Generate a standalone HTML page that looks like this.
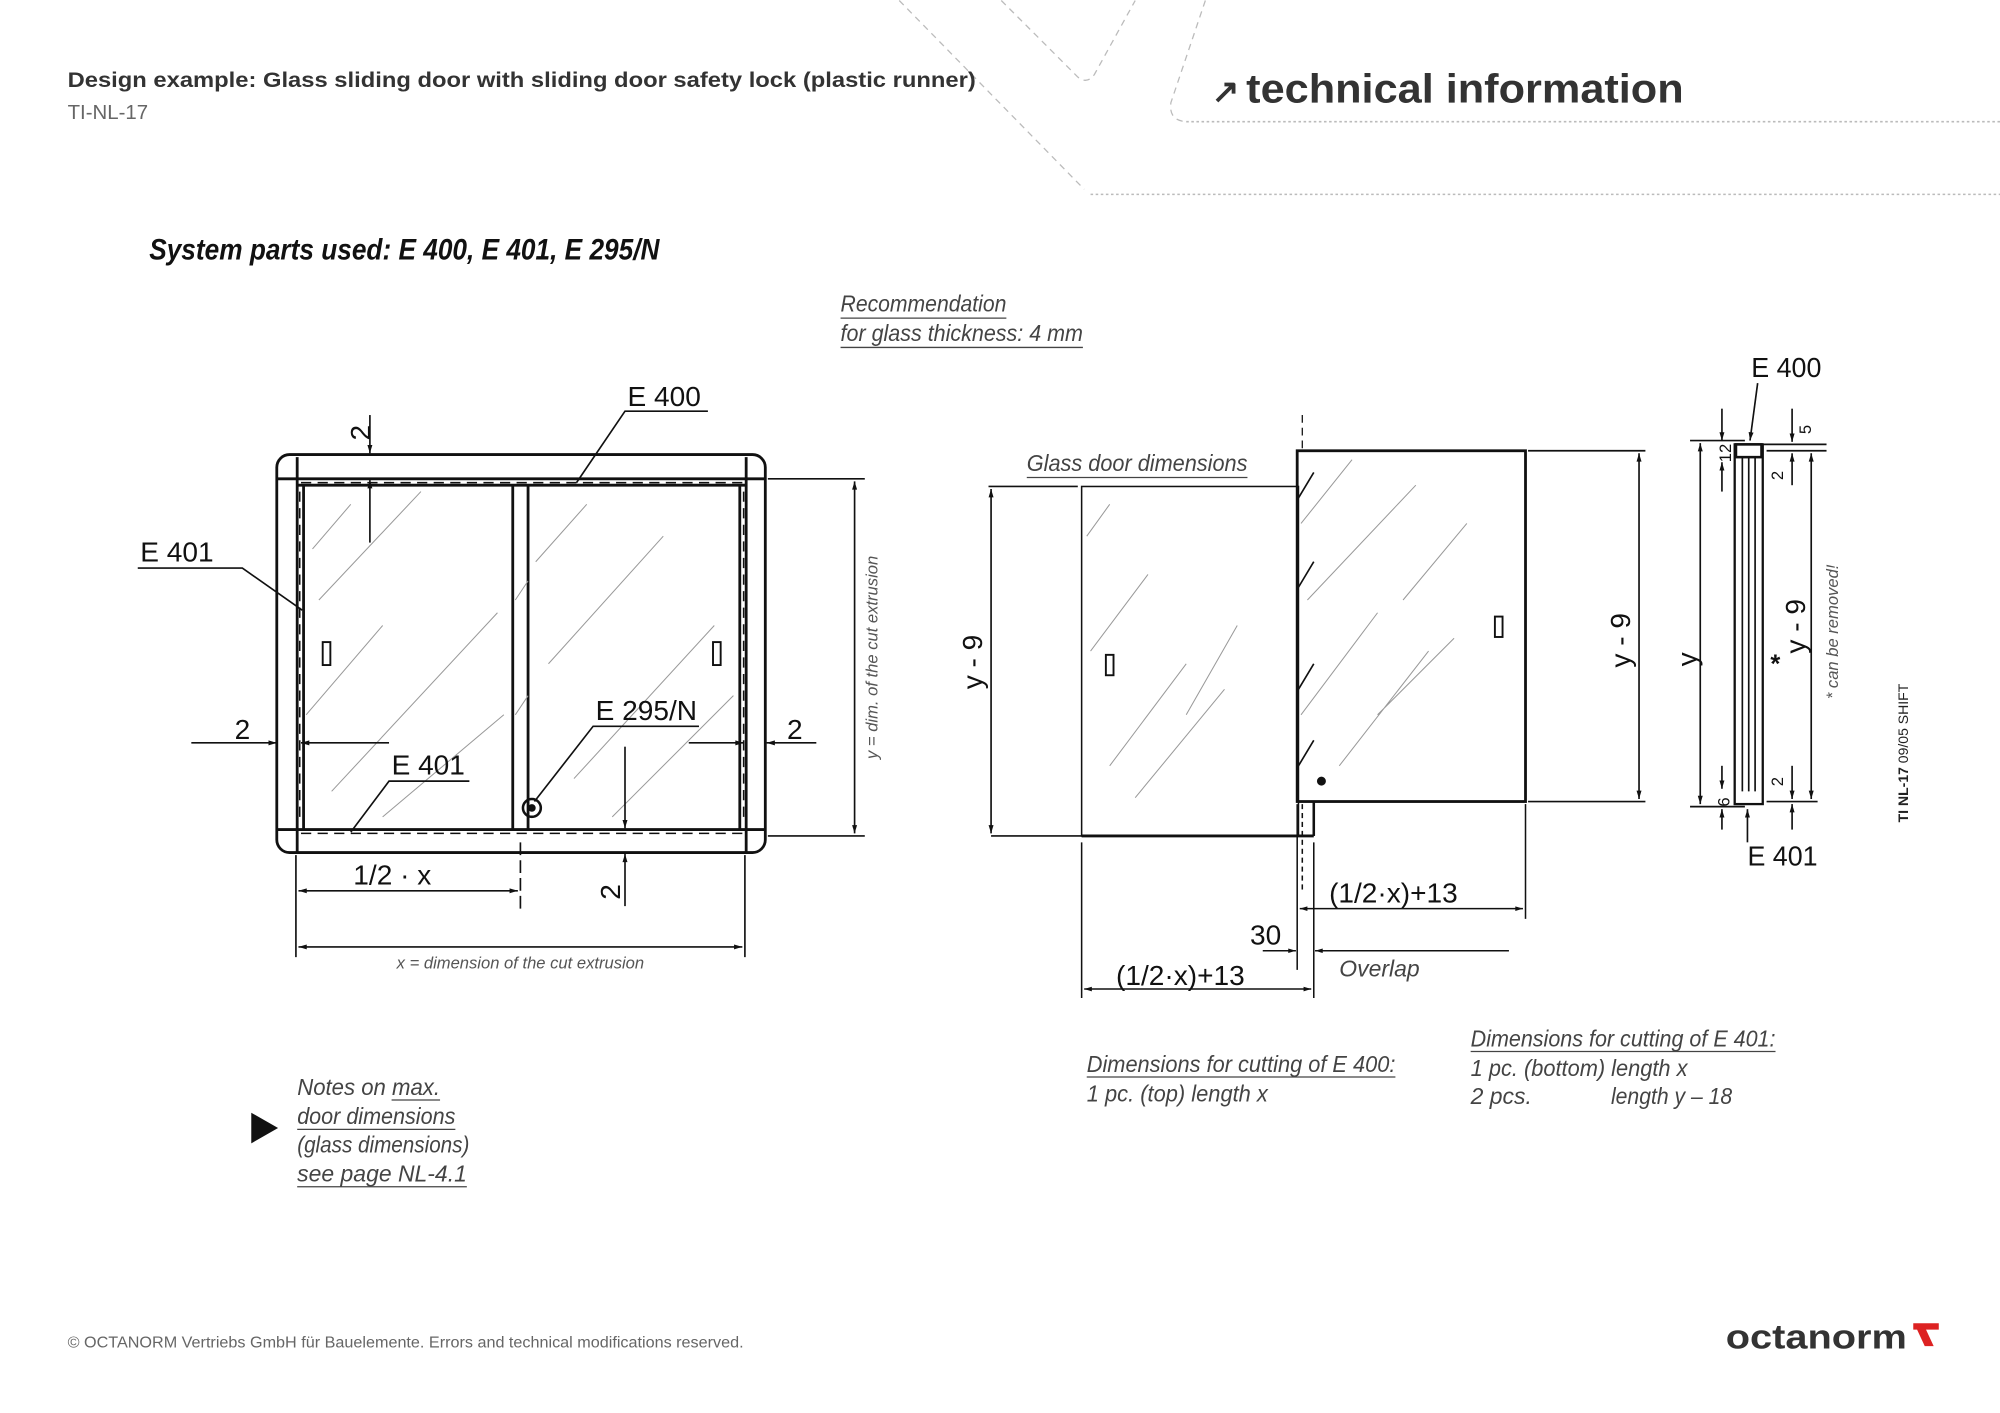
<!DOCTYPE html>
<html><head><meta charset="utf-8"><style>
html,body{margin:0;padding:0;background:#fff;}
svg{display:block}
text{font-family:"Liberation Sans",sans-serif;}
.lbl{font-size:22px;fill:#111;}
.it{font-style:italic;font-weight:300;fill:#444;font-size:18px;}
.g{stroke:#999;stroke-width:0.8;fill:none}
</style></head><body>
<svg width="2000" height="1413" viewBox="0 0 1568 1107" xmlns="http://www.w3.org/2000/svg">
<defs>
<marker id="a" viewBox="0 0 10 10" refX="10" refY="5" markerWidth="9" markerHeight="5" orient="auto-start-reverse"><path d="M0,2 L10,5 L0,8 z" fill="#111"/></marker>
</defs>
<g stroke="#bbb" stroke-width="1" fill="none" stroke-dasharray="5,4">
<path d="M705,0 L850,148"/>
<path d="M785,0 L845,60 Q852,66 858,58 L890,0"/>
<path d="M945,0 L918,80 Q916,94 930,95"/>
</g>
<g stroke="#bbb" stroke-width="1.2" fill="none" stroke-dasharray="2,2">
<path d="M855,152 L1568,152"/><path d="M930,95 L1568,95"/>
</g>
<text x="53" y="68" font-size="17" font-weight="bold" fill="#333" textLength="712" lengthAdjust="spacingAndGlyphs">Design example: Glass sliding door with sliding door safety lock (plastic runner)</text>
<text x="53" y="93" font-size="16" fill="#666" font-weight="300">TI-NL-17</text>
<text x="950" y="80" font-size="26" font-weight="bold" fill="#333">↗</text>
<text x="977" y="80" font-size="32" font-weight="bold" fill="#333" textLength="343" lengthAdjust="spacingAndGlyphs">technical information</text>
<text x="117" y="203" font-size="23" font-weight="bold" font-style="italic" fill="#111" textLength="400" lengthAdjust="spacingAndGlyphs">System parts used: E 400, E 401, E 295/N</text>
<text x="659" y="244" class="it" textLength="130" lengthAdjust="spacingAndGlyphs">Recommendation</text>
<line x1="659" y1="249" x2="789" y2="249" stroke="#444"/>
<text x="659" y="267" class="it" textLength="190" lengthAdjust="spacingAndGlyphs">for glass thickness: 4 mm</text>
<line x1="659" y1="272" x2="849" y2="272" stroke="#444"/>

<g stroke="#111" fill="none" stroke-width="2.2">
<rect x="217" y="356" width="383" height="312" rx="10"/>
<line x1="233" y1="375" x2="585" y2="375"/>
<line x1="233" y1="380" x2="585" y2="380"/>
<line x1="233" y1="358" x2="233" y2="668"/>
<line x1="585" y1="358" x2="585" y2="668"/>
<line x1="233" y1="650" x2="585" y2="650"/>
<line x1="217" y1="375" x2="233" y2="375"/>
<line x1="585" y1="375" x2="600" y2="375"/>
<line x1="217" y1="650" x2="233" y2="650"/>
<line x1="585" y1="650" x2="600" y2="650"/>
<line x1="238" y1="380" x2="238" y2="650"/>
<line x1="580" y1="380" x2="580" y2="650"/>
<line x1="402" y1="380" x2="402" y2="650"/>
<line x1="414" y1="380" x2="414" y2="650"/>
</g>
<g stroke="#111" stroke-width="1.2" stroke-dasharray="8,5">
<line x1="236" y1="378" x2="582" y2="378"/><line x1="236" y1="653" x2="582" y2="653"/>
<line x1="235" y1="385" x2="235" y2="645"/><line x1="583" y1="385" x2="583" y2="645"/>
</g>
<g class="g">
<path d="M245,430 L275,395 M250,470 L330,385 M240,560 L300,490 M260,620 L390,480 M300,640 L395,560 M420,440 L460,395 M430,520 L520,420 M450,610 L560,490 M480,640 L575,545 M404,470 L414,455 M404,560 L414,545"/>
</g>
<rect x="253" y="503" width="6" height="18" fill="none" stroke="#111" stroke-width="1.5"/>
<rect x="559" y="503" width="6" height="18" fill="none" stroke="#111" stroke-width="1.5"/>
<circle cx="417" cy="633" r="7" fill="none" stroke="#111" stroke-width="2"/><circle cx="417" cy="633" r="3" fill="#111"/>
<g stroke="#111" stroke-width="1.3" fill="none">
<line x1="602" y1="375" x2="678" y2="375"/><line x1="602" y1="655" x2="678" y2="655"/>
<line x1="670" y1="377" x2="670" y2="653" marker-start="url(#a)" marker-end="url(#a)"/>
<line x1="232" y1="670" x2="232" y2="750"/><line x1="584" y1="670" x2="584" y2="750"/>
<line x1="234" y1="742" x2="582" y2="742" marker-start="url(#a)" marker-end="url(#a)"/>
<line x1="234" y1="698" x2="406" y2="698" marker-start="url(#a)" marker-end="url(#a)"/>
<line x1="408" y1="660" x2="408" y2="712" stroke-dasharray="10,4"/>
<line x1="290" y1="325" x2="290" y2="355" marker-end="url(#a)"/>
<line x1="290" y1="425" x2="290" y2="376" marker-end="url(#a)"/>
<line x1="150" y1="582" x2="217" y2="582" marker-end="url(#a)"/>
<line x1="305" y1="582" x2="236" y2="582" marker-end="url(#a)"/>
<line x1="540" y1="582" x2="583" y2="582" marker-end="url(#a)"/>
<line x1="640" y1="582" x2="601" y2="582" marker-end="url(#a)"/>
<line x1="490" y1="585" x2="490" y2="649" marker-end="url(#a)"/>
<line x1="490" y1="710" x2="490" y2="669" marker-end="url(#a)"/>
<path d="M555,322 L490,322 L452,378"/>
<path d="M108,445 L190,445 L237,478"/>
<path d="M368,612 L305,612 L275,652"/>
<path d="M548,569 L465,569 L419,628"/>
</g>
<text x="492" y="318" class="lbl">E 400</text>
<text x="110" y="440" class="lbl">E 401</text>
<text x="307" y="607" class="lbl">E 401</text>
<text x="467" y="564" class="lbl">E 295/N</text>
<text x="184" y="579" class="lbl">2</text>
<text x="617" y="579" class="lbl">2</text>
<text class="lbl" transform="translate(290,345) rotate(-90)">2</text>
<text class="lbl" transform="translate(486,705) rotate(-90)">2</text>
<text x="277" y="693" class="lbl">1/2 · x</text>
<text x="408" y="759" font-size="13" font-style="italic" fill="#555" text-anchor="middle">x = dimension of the cut extrusion</text>
<text font-size="13" font-style="italic" fill="#555" text-anchor="middle" transform="translate(688,515) rotate(-90)">y = dim. of the cut extrusion</text>

<text x="805" y="369" class="it" textLength="173" lengthAdjust="spacingAndGlyphs">Glass door dimensions</text>
<line x1="805" y1="374" x2="978" y2="374" stroke="#444"/>
<g stroke="#111" fill="none">
<line x1="775" y1="381" x2="845" y2="381" stroke-width="1.3"/>
<rect x="848" y="381" width="170" height="274" stroke-width="1.2"/>
<line x1="848" y1="655" x2="1030" y2="655" stroke-width="2.2"/>
<line x1="777" y1="655" x2="848" y2="655" stroke-width="1.3"/>
<line x1="1030" y1="628" x2="1030" y2="655" stroke-width="2"/>
<rect x="1017" y="353" width="179" height="275" stroke-width="2.2"/>
<line x1="1021" y1="325" x2="1021" y2="353" stroke-width="1" stroke-dasharray="6,4"/>
<line x1="777" y1="383" x2="777" y2="653" stroke-width="1.3" marker-start="url(#a)" marker-end="url(#a)"/>
<line x1="1198" y1="353" x2="1290" y2="353" stroke-width="1.3"/>
<line x1="1198" y1="628" x2="1290" y2="628" stroke-width="1.3"/>
<line x1="1285" y1="355" x2="1285" y2="626" stroke-width="1.3" marker-start="url(#a)" marker-end="url(#a)"/>
<g stroke-width="1.2">
<line x1="848" y1="660" x2="848" y2="782"/><line x1="1030" y1="660" x2="1030" y2="782"/>
<line x1="1017" y1="630" x2="1017" y2="760"/><line x1="1021" y1="630" x2="1021" y2="700" stroke-dasharray="4,3"/>
<line x1="1196" y1="630" x2="1196" y2="720"/>
<line x1="850" y1="775" x2="1028" y2="775" marker-start="url(#a)" marker-end="url(#a)"/>
<line x1="1019" y1="712" x2="1194" y2="712" marker-start="url(#a)" marker-end="url(#a)"/>
<line x1="990" y1="745" x2="1016" y2="745" marker-end="url(#a)"/>
<line x1="1183" y1="745" x2="1031" y2="745" marker-end="url(#a)"/>
</g>
</g>
<g class="g">
<path d="M852,420 L870,395 M855,510 L900,450 M870,600 L930,520 M890,625 L960,540 M930,560 L970,490 M1020,410 L1060,360 M1025,470 L1110,380 M1020,560 L1080,480 M1050,600 L1120,510 M1080,560 L1140,500 M1100,470 L1150,410"/>
</g>
<g stroke="#111" stroke-width="1.3"><path d="M1018,390 L1030,370 M1018,460 L1030,440 M1018,540 L1030,520 M1018,600 L1030,580"/></g>
<rect x="867" y="513" width="6" height="16" fill="none" stroke="#111" stroke-width="1.5"/>
<rect x="1172" y="483" width="6" height="16" fill="none" stroke="#111" stroke-width="1.5"/>
<circle cx="1036" cy="612" r="3.5" fill="#111"/>
<text class="lbl" transform="translate(770,540) rotate(-90)">y - 9</text>
<text class="lbl" transform="translate(1278,523) rotate(-90)">y - 9</text>
<text x="1042" y="707" class="lbl">(1/2·x)+13</text>
<text x="875" y="772" class="lbl">(1/2·x)+13</text>
<text x="980" y="740" class="lbl">30</text>
<text x="1050" y="765" class="it">Overlap</text>

<g stroke="#111" fill="none" stroke-width="1.3">
<rect x="1360" y="348" width="22" height="282" stroke-width="1.8"/>
<line x1="1366" y1="358" x2="1366" y2="620"/><line x1="1371" y1="358" x2="1371" y2="620"/><line x1="1376" y1="358" x2="1376" y2="620"/>
<rect x="1361" y="348" width="20" height="10" stroke-width="2"/>
<line x1="1325" y1="345" x2="1368" y2="345"/><line x1="1325" y1="632" x2="1368" y2="632"/>
<line x1="1333" y1="347" x2="1333" y2="630" marker-start="url(#a)" marker-end="url(#a)"/>
<line x1="1385" y1="353" x2="1432" y2="353"/><line x1="1385" y1="628" x2="1425" y2="628"/>
<line x1="1382" y1="348" x2="1432" y2="348"/>
<line x1="1420" y1="355" x2="1420" y2="626" marker-start="url(#a)" marker-end="url(#a)"/>
<line x1="1350" y1="320" x2="1350" y2="345" marker-end="url(#a)"/>
<line x1="1350" y1="385" x2="1350" y2="362" marker-end="url(#a)"/>
<line x1="1350" y1="600" x2="1350" y2="618" marker-end="url(#a)"/>
<line x1="1350" y1="650" x2="1350" y2="634" marker-end="url(#a)"/>
<line x1="1405" y1="320" x2="1405" y2="346" marker-end="url(#a)"/>
<line x1="1405" y1="380" x2="1405" y2="355" marker-end="url(#a)"/>
<line x1="1405" y1="600" x2="1405" y2="626" marker-end="url(#a)"/>
<line x1="1405" y1="650" x2="1405" y2="630" marker-end="url(#a)"/>
<line x1="1378" y1="300" x2="1372" y2="345" marker-end="url(#a)"/>
<line x1="1370" y1="660" x2="1370" y2="634" marker-end="url(#a)"/>
</g>
<text x="1373" y="295" class="lbl" textLength="55" lengthAdjust="spacingAndGlyphs">E 400</text>
<text x="1370" y="678" class="lbl" textLength="55" lengthAdjust="spacingAndGlyphs">E 401</text>
<text class="lbl" transform="translate(1330,522) rotate(-90)">y</text>
<text class="lbl" transform="translate(1415,512) rotate(-90)">y - 9</text>
<text x="1388" y="527" font-size="20" font-weight="bold" fill="#111">*</text>
<text font-size="13" font-style="italic" fill="#555" text-anchor="middle" transform="translate(1441,495) rotate(-90)">* can be removed!</text>
<text font-size="13" fill="#111" transform="translate(1357,362) rotate(-90)">12</text>
<text font-size="13" fill="#111" transform="translate(1420,340) rotate(-90)">5</text>
<text font-size="13" fill="#111" transform="translate(1398,376) rotate(-90)">2</text>
<text font-size="13" fill="#111" transform="translate(1398,616) rotate(-90)">2</text>
<text font-size="13" fill="#111" transform="translate(1356,632) rotate(-90)">6</text>
<text font-size="11" fill="#222" text-anchor="middle" transform="translate(1496,590) rotate(-90)"><tspan font-weight="bold">TI NL-17</tspan> 09/05 SHIFT</text>

<path d="M197,872 L218,884 L197,896 z" fill="#111"/>
<text x="233" y="858" class="it" textLength="112" lengthAdjust="spacingAndGlyphs">Notes on max.</text>
<text x="233" y="881" class="it" textLength="124" lengthAdjust="spacingAndGlyphs">door dimensions</text>
<text x="233" y="903" class="it" textLength="135" lengthAdjust="spacingAndGlyphs">(glass dimensions)</text>
<text x="233" y="926" class="it" textLength="133" lengthAdjust="spacingAndGlyphs">see page NL-4.1</text>
<g stroke="#444"><line x1="307" y1="862" x2="345" y2="862"/><line x1="233" y1="885" x2="357" y2="885"/><line x1="233" y1="930" x2="366" y2="930"/></g>
<text x="852" y="840" class="it" textLength="242" lengthAdjust="spacingAndGlyphs">Dimensions for cutting of E 400:</text>
<line x1="852" y1="844" x2="1094" y2="844" stroke="#444"/>
<text x="852" y="863" class="it" textLength="142" lengthAdjust="spacingAndGlyphs">1 pc. (top) length x</text>
<text x="1153" y="820" class="it" textLength="239" lengthAdjust="spacingAndGlyphs">Dimensions for cutting of E 401:</text>
<line x1="1153" y1="824" x2="1392" y2="824" stroke="#444"/>
<text x="1153" y="843" class="it" textLength="170" lengthAdjust="spacingAndGlyphs">1 pc. (bottom) length x</text>
<text x="1153" y="865" class="it">2 pcs.</text>
<text x="1263" y="865" class="it" textLength="95" lengthAdjust="spacingAndGlyphs">length y – 18</text>

<text x="53" y="1056" font-size="12" fill="#666" textLength="530" lengthAdjust="spacingAndGlyphs">© OCTANORM Vertriebs GmbH für Bauelemente. Errors and technical modifications reserved.</text>
<text x="1353" y="1057" font-size="27" font-weight="bold" fill="#333" textLength="142" lengthAdjust="spacingAndGlyphs">octanorm</text>
<path d="M1500,1037 L1520,1037 L1520,1042 L1510,1042 L1516,1055 L1509,1055 L1503,1042 L1500,1042 z" fill="#d22"/>
</svg>
</body></html>
